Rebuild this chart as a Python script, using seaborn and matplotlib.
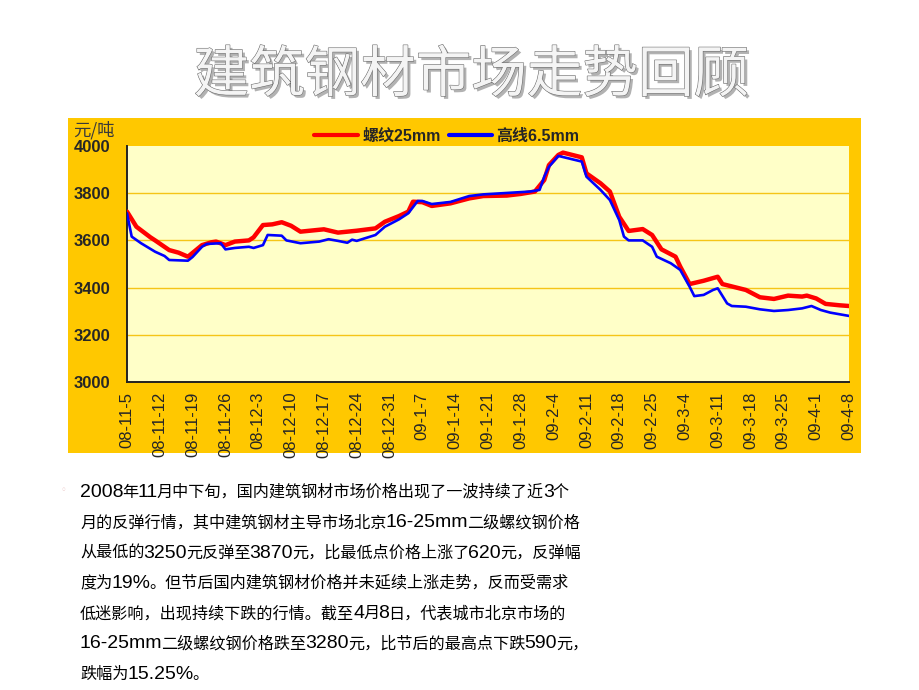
import re
import numpy as np
import pandas as pd
import matplotlib
matplotlib.use("Agg")
import matplotlib.pyplot as plt
import matplotlib.patheffects as pe
from matplotlib.patches import Rectangle
import seaborn as sns

# ---------------- data ----------------
x_tick_labels = ["08-11-5", "08-11-12", "08-11-19", "08-11-26", "08-12-3", "08-12-10",
                 "08-12-17", "08-12-24", "08-12-31", "09-1-7", "09-1-14", "09-1-21",
                 "09-1-28", "09-2-4", "09-2-11", "09-2-18", "09-2-25", "09-3-4",
                 "09-3-11", "09-3-18", "09-3-25", "09-4-1", "09-4-8"]
x_tick_days = [7 * i for i in range(len(x_tick_labels))]  # days since 08-11-5

# 螺纹25mm (days since 2008-11-05, 元/吨)
rebar_days = [0, 2, 5, 6, 9, 11, 13, 16, 18, 19, 21, 23, 26, 27, 29, 31, 33, 35, 37,
              42, 45, 49, 53, 55, 58, 60, 61, 63, 65, 69, 73, 76, 81, 84, 87, 89, 90,
              92, 93, 97, 98, 101, 103, 105, 107, 110, 112, 114, 117, 118, 120, 123,
              126, 127, 130, 132, 135, 138, 141, 144, 145, 147, 149, 152, 154]
rebar_vals = [3722, 3658, 3613, 3600, 3559, 3548, 3531, 3580, 3592, 3595, 3580, 3595,
              3600, 3613, 3665, 3668, 3677, 3662, 3637, 3647, 3633, 3641, 3651, 3679,
              3703, 3722, 3764, 3762, 3746, 3757, 3778, 3788, 3790, 3797, 3807, 3856,
              3919, 3962, 3972, 3952, 3884, 3842, 3807, 3700, 3640, 3648, 3623, 3562,
              3531, 3489, 3415, 3429, 3446, 3415, 3400, 3390, 3359, 3352, 3366, 3362,
              3366, 3354, 3331, 3325, 3322]

# 高线6.5mm
wire_days = [0, 1, 3, 6, 8, 9, 13, 14, 16, 17, 20, 21, 23, 26, 27, 29, 30, 33, 34, 37,
             41, 42, 43, 45, 47, 48, 49, 53, 55, 58, 60, 62, 63, 65, 69, 73, 76, 86,
             88, 89, 90, 92, 97, 98, 101, 103, 105, 106, 107, 110, 112, 113, 116, 118,
             120, 121, 123, 125, 126, 128, 129, 132, 135, 138, 141, 144, 146, 148,
             150, 154]
wire_vals = [3715, 3616, 3588, 3552, 3534, 3517, 3514, 3530, 3573, 3585, 3588, 3562,
             3568, 3573, 3568, 3580, 3623, 3620, 3600, 3588, 3595, 3600, 3605, 3598,
             3590, 3603, 3598, 3623, 3658, 3689, 3715, 3767, 3767, 3754, 3763, 3788,
             3795, 3807, 3814, 3870, 3912, 3958, 3934, 3870, 3814, 3771, 3686, 3616,
             3600, 3600, 3573, 3531, 3503, 3475, 3404, 3364, 3369, 3390, 3397, 3333,
             3322, 3319, 3308, 3301, 3305, 3312, 3322, 3305, 3294, 3280]

series_names = ["螺纹25mm", "高线6.5mm"]
series_colors = ["#FF0000", "#0000FF"]
y_ticks = [3000, 3200, 3400, 3600, 3800, 4000]

title = "建筑钢材市场走势回顾"
y_unit = "元/吨"
paragraph = [
    "2008年11月中下旬，国内建筑钢材市场价格出现了一波持续了近3个",
    "月的反弹行情，其中建筑钢材主导市场北京16-25mm二级螺纹钢价格",
    "从最低的3250元反弹至3870元，比最低点价格上涨了620元，反弹幅",
    "度为19%。但节后国内建筑钢材价格并未延续上涨走势，反而受需求",
    "低迷影响，出现持续下跌的行情。截至4月8日，代表城市北京市场的",
    "16-25mm二级螺纹钢价格跌至3280元，比节后的最高点下跌590元，",
    "跌幅为15.25%。",
]

# ---------------- figure ----------------
W, H = 920, 690
sns.set_style("white")
plt.rcParams["font.family"] = ["Liberation Sans", "Noto Sans CJK SC", "DejaVu Sans"]
CJK = ["Noto Sans CJK SC", "DejaVu Sans"]

fig = plt.figure(figsize=(W / 100, H / 100), dpi=100)
fig.patch.set_facecolor("white")

# orange chart frame (behind the axes)
frame = Rectangle((68 / W, 1 - 453 / H), 793 / W, 335 / H,
                  transform=fig.transFigure, facecolor="#FFC800",
                  edgecolor="none", zorder=-5)
fig.patches.append(frame)

ax = fig.add_axes([127 / W, 1 - 382 / H, 722 / W, 236 / H])
ax.set_zorder(2)
ax.set_facecolor("#FFFFC8")

df_r = pd.DataFrame({"day": rebar_days, "price": rebar_vals})
df_w = pd.DataFrame({"day": wire_days, "price": wire_vals})
sns.lineplot(data=df_r, x="day", y="price", ax=ax, color=series_colors[0],
             lw=3.2, label=series_names[0], zorder=3)
sns.lineplot(data=df_w, x="day", y="price", ax=ax, color=series_colors[1],
             lw=1.9, label=series_names[1], zorder=4)

ax.set_xlim(0, 154)
ax.set_ylim(3000, 4000)
ax.set_yticks(y_ticks)
ax.set_yticklabels([str(v) for v in y_ticks], fontsize=12, fontweight="bold",
                   family=["Liberation Sans"])
ax.set_xticks(x_tick_days)
ax.set_xticklabels(x_tick_labels, rotation=90, fontsize=12,
                   family=["Liberation Sans Narrow", "Liberation Sans"])
ax.set_xlabel("")
ax.set_ylabel("")
for y in y_ticks[1:-1]:
    ax.axhline(y, color="#F5C518", lw=1.0, zorder=1)
for s in ["top", "right"]:
    ax.spines[s].set_visible(False)
for s in ["left", "bottom"]:
    ax.spines[s].set_color("#222222")
    ax.spines[s].set_linewidth(1.4)
ax.tick_params(axis="x", direction="in", length=4, width=1.2, color="#222222", pad=7)
ax.tick_params(axis="y", direction="out", length=3, width=1.2, color="#222222", pad=9)
ax.grid(False)

leg = ax.legend(loc="center", bbox_to_anchor=(447 / W, 1 - 136 / H),
                bbox_transform=fig.transFigure, ncol=2, frameon=False,
                handlelength=2.7, handletextpad=0.3, columnspacing=0.5,
                prop={"family": ["Liberation Sans", "Noto Sans CJK SC"],
                      "weight": "bold", "size": 11.5})
for line in leg.get_lines():
    line.set_linewidth(3.0)

fig.text(73 / W, 1 - 130 / H, y_unit, fontsize=12.5, color="#3A3A3A",
         family=CJK, va="center", ha="left", zorder=3)

# title with emboss effect
fig.text(471 / W, 1 - 76 / H, title, fontsize=40, family=CJK, color="#F4F4F4",
         ha="center", va="center",
         path_effects=[pe.SimplePatchShadow(offset=(2, -2), shadow_rgbFace="#555555", alpha=0.45),
                       pe.Stroke(linewidth=0.8, foreground="#6A6A6A"),
                       pe.Normal()])

# faint bullet
fig.text(63 / W, 1 - 490 / H, "◦", fontsize=7, color="#EBC8C8",
         family=["DejaVu Sans"], ha="center", va="center")

# paragraph with mixed latin/CJK sizes
fig.canvas.draw()
renderer = fig.canvas.get_renderer()
baseline0, spacing = 497.0, 30.3
for i, line in enumerate(paragraph):
    x = 80.0
    yb = baseline0 + i * spacing
    for run in re.findall(r"[\x00-\x7f]+|[^\x00-\x7f]+", line):
        if run.isascii():
            t = fig.text(x / W, 1 - yb / H, run, fontsize=14, family=["Liberation Sans"],
                         va="baseline", ha="left", color="black")
        else:
            t = fig.text(x / W, 1 - yb / H, run, fontsize=11.6, family=CJK,
                         va="baseline", ha="left", color="black")
        bb = t.get_window_extent(renderer)
        x += bb.width - 1.0

fig.savefig("out.png", dpi=100, facecolor="white")
